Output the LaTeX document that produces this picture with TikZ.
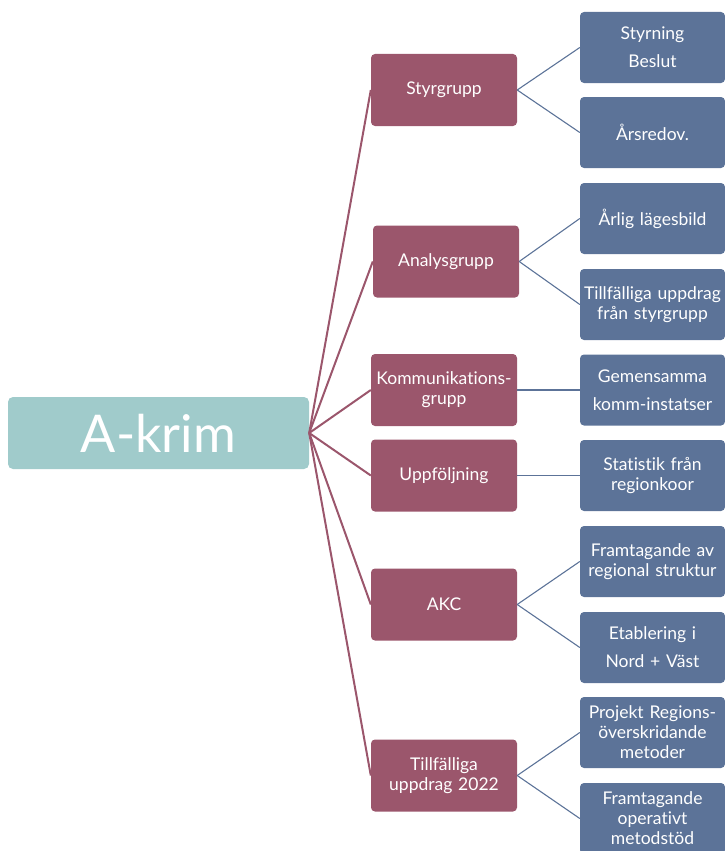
\documentclass[tikz,border=0pt]{standalone}
\usepackage{fontspec}
\setmainfont{Lato}[Ligatures={NoCommon,NoContextual,NoRare}]
\newcommand{\nlig}{\kern0pt{}}
\definecolor{rootc}{HTML}{A0CBCB}
\definecolor{lvlonec}{HTML}{9B566C}
\definecolor{lvltwoc}{HTML}{5C7398}
\begin{document}
\begin{tikzpicture}[x=1pt,y=-1pt,
  rootbox/.style={fill=rootc, rounded corners=5pt, minimum width=301pt, minimum height=72pt, inner sep=0pt, text=white, font=\fontsize{52}{60}\selectfont},
  onebox/.style={fill=lvlonec, rounded corners=4pt, minimum width=146pt, minimum height=72pt, inner sep=0pt, text width=146pt, align=center, text=white, font=\fontsize{17.5}{20}\selectfont},
  twobox/.style={fill=lvltwoc, rounded corners=4pt, minimum width=145pt, minimum height=71pt, inner sep=0pt, text width=145pt, align=center, text=white, font=\fontsize{17.5}{20}\selectfont},
  wide/.style={font=\fontsize{17.5}{28}\selectfont},
  oneline/.style={draw=lvlonec, line width=2pt},
  twoline/.style={draw=lvltwoc, line width=1.1pt}
]
\useasboundingbox (0,0) rectangle (725,851);
\node[rootbox] (root) at (158.5,433) {A-krim};

\node[onebox] (a) at (444,90) {Styrgrupp};
\node[onebox] (b) at (446,261.5) {Analysgrupp};
\node[onebox] (c) at (444,390) {Kommunika\nlig tions-\\grupp};
\node[onebox] (d) at (444,475.5) {Uppföljning};
\node[onebox] (e) at (444,604.5) {AKC};
\node[onebox] (f) at (444,775.5) {Tillfälliga\\uppdrag 2022};

\node[twobox,wide] (a1) at (652.5,47.5) {Styrning\\Beslut};
\node[twobox] (a2) at (652.5,132.5) {Årsredov.};
\node[twobox] (b1) at (652.5,218.5) {Årlig lägesbild};
\node[twobox] (b2) at (652.5,304.5) {Tillfälliga uppdrag\\från styrgrupp};
\node[twobox,wide] (c1) at (652.5,390) {Gemensamma\\komm-instatser};
\node[twobox] (d1) at (652.5,475.5) {Statis\nlig tik från\\regionkoor};
\node[twobox] (e1) at (652.5,561.5) {Framtagande av\\regional struktur};
\node[twobox,wide] (e2) at (652.5,647.5) {Etablering i\\Nord + Väst};
\node[twobox] (f1) at (652.5,732.5) {Projekt Regions-\\överskridande\\metoder};
\node[twobox] (f2) at (652.5,818.5) {Framtagande\\opera\nlig tivt\\metodstöd};

\foreach \n in {a,b,c,d,e,f} \draw[oneline] (root.east) -- (\n.west);
\draw[twoline] (a.east) -- (a1.west);
\draw[twoline] (a.east) -- (a2.west);
\draw[twoline] (b.east) -- (b1.west);
\draw[twoline] (b.east) -- (b2.west);
\draw[twoline] (c.east) -- (c1.west);
\draw[twoline] (d.east) -- (d1.west);
\draw[twoline] (e.east) -- (e1.west);
\draw[twoline] (e.east) -- (e2.west);
\draw[twoline] (f.east) -- (f1.west);
\draw[twoline] (f.east) -- (f2.west);
\end{tikzpicture}
\end{document}
